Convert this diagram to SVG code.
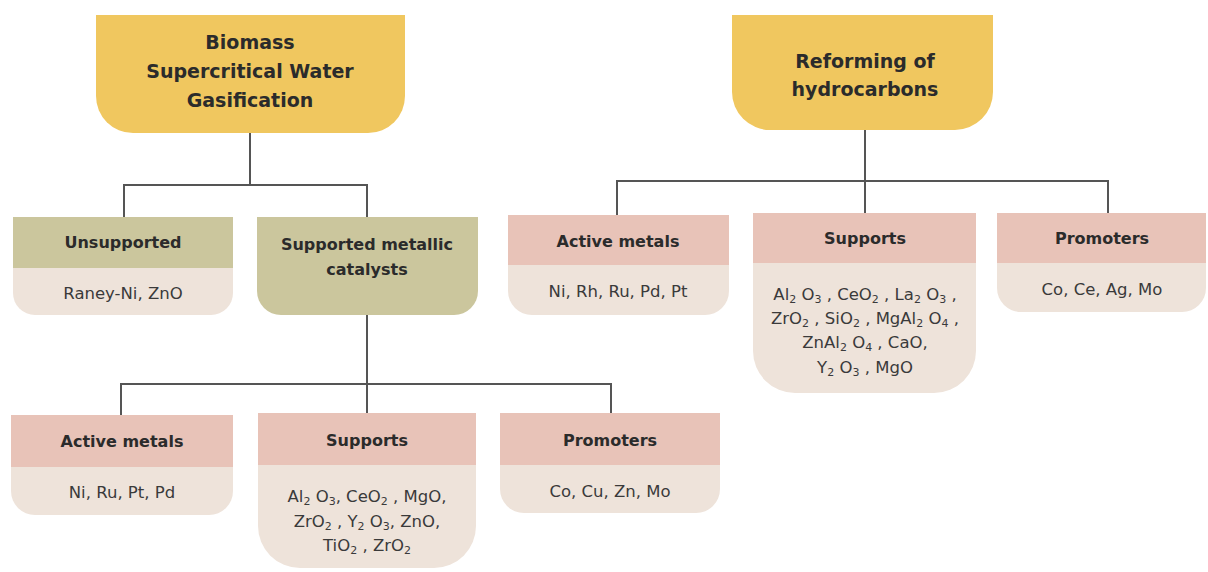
<svg xmlns="http://www.w3.org/2000/svg" width="1208" height="572" viewBox="0 0 1208 572">
<style>
.top{fill:#F0C75F}
.olive{fill:#CBC69D}
.pink{fill:#E8C3B8}
.body{fill:#EEE3DA}
.h1{font-family:"DejaVu Sans",sans-serif;font-weight:bold;font-size:19px;fill:#2b2b2b;text-anchor:middle}
.h2{font-family:"DejaVu Sans",sans-serif;font-weight:bold;font-size:16px;fill:#2b2b2b;text-anchor:middle}
.tx{font-family:"DejaVu Sans",sans-serif;font-size:16.5px;fill:#3a3a3a;text-anchor:middle}
.sb{font-size:11px;baseline-shift:-3px}
.conn{fill:none;stroke:#555;stroke-width:2}
</style>
<rect width="1208" height="572" fill="#fff"/>
<g id="connectors" class="conn">
<path d="M250 133V185M124 217V185H367V217"/>
<path d="M367 315V384M121 415V384H611V413M367 384V413"/>
<path d="M865 130V181M617 215V181H1108V213M865 181V213"/>
</g>
<g id="biomass">
<path class="top" d="M96 15H405V96A37 37 0 0 1 368 133H133A37 37 0 0 1 96 96Z"/>
<text class="h1" x="250" y="49">Biomass</text>
<text class="h1" x="250" y="78">Supercritical Water</text>
<text class="h1" x="250" y="107">Gasification</text>
</g>
<g id="reforming">
<path class="top" d="M732 15H993V92A38 38 0 0 1 955 130H770A38 38 0 0 1 732 92Z"/>
<text class="h1" x="865" y="68">Reforming of</text>
<text class="h1" x="865" y="96">hydrocarbons</text>
</g>
<g id="unsupported">
<path class="body" d="M13 217H233V293A22 22 0 0 1 211 315H35A22 22 0 0 1 13 293Z"/>
<rect class="olive" x="13" y="217" width="220" height="51"/>
<text class="h2" x="123" y="248">Unsupported</text>
<text class="tx" x="123" y="299">Raney-Ni, ZnO</text>
</g>
<g id="supported">
<path class="olive" d="M257 217H478V291A24 24 0 0 1 454 315H281A24 24 0 0 1 257 291Z"/>
<text class="h2" x="367" y="250">Supported metallic</text>
<text class="h2" x="367" y="275">catalysts</text>
</g>
<g id="active1">
<path class="body" d="M11 415H233V491A24 24 0 0 1 209 515H35A24 24 0 0 1 11 491Z"/>
<rect class="pink" x="11" y="415" width="222" height="52"/>
<text class="h2" x="122" y="447">Active metals</text>
<text class="tx" x="122" y="498">Ni, Ru, Pt, Pd</text>
</g>
<g id="supports1">
<path class="body" d="M258 413H476V526A42 42 0 0 1 434 568H300A42 42 0 0 1 258 526Z"/>
<rect class="pink" x="258" y="413" width="218" height="52"/>
<text class="h2" x="367" y="446">Supports</text>
<text class="tx" x="367" y="502">Al<tspan class="sb">2</tspan> O<tspan class="sb">3</tspan>, CeO<tspan class="sb">2</tspan> , MgO,</text>
<text class="tx" x="367" y="527">ZrO<tspan class="sb">2</tspan> , Y<tspan class="sb">2</tspan> O<tspan class="sb">3</tspan>, ZnO,</text>
<text class="tx" x="367" y="551">TiO<tspan class="sb">2</tspan> , ZrO<tspan class="sb">2</tspan></text>
</g>
<g id="promoters1">
<path class="body" d="M500 413H720V489A24 24 0 0 1 696 513H524A24 24 0 0 1 500 489Z"/>
<rect class="pink" x="500" y="413" width="220" height="52"/>
<text class="h2" x="610" y="446">Promoters</text>
<text class="tx" x="610" y="497">Co, Cu, Zn, Mo</text>
</g>
<g id="active2">
<path class="body" d="M508 215H729V291A24 24 0 0 1 705 315H532A24 24 0 0 1 508 291Z"/>
<rect class="pink" x="508" y="215" width="221" height="50"/>
<text class="h2" x="618" y="247">Active metals</text>
<text class="tx" x="618" y="297">Ni, Rh, Ru, Pd, Pt</text>
</g>
<g id="supports2">
<path class="body" d="M753 213H976V351A42 42 0 0 1 934 393H795A42 42 0 0 1 753 351Z"/>
<rect class="pink" x="753" y="213" width="223" height="50"/>
<text class="h2" x="865" y="244">Supports</text>
<text class="tx" x="865" y="300">Al<tspan class="sb">2</tspan> O<tspan class="sb">3</tspan> , CeO<tspan class="sb">2</tspan> , La<tspan class="sb">2</tspan> O<tspan class="sb">3</tspan> ,</text>
<text class="tx" x="865" y="324">ZrO<tspan class="sb">2</tspan> , SiO<tspan class="sb">2</tspan> , MgAl<tspan class="sb">2</tspan> O<tspan class="sb">4</tspan> ,</text>
<text class="tx" x="865" y="348">ZnAl<tspan class="sb">2</tspan> O<tspan class="sb">4</tspan> , CaO,</text>
<text class="tx" x="865" y="373">Y<tspan class="sb">2</tspan> O<tspan class="sb">3</tspan> , MgO</text>
</g>
<g id="promoters2">
<path class="body" d="M997 213H1206V288A24 24 0 0 1 1182 312H1021A24 24 0 0 1 997 288Z"/>
<rect class="pink" x="997" y="213" width="209" height="50"/>
<text class="h2" x="1102" y="244">Promoters</text>
<text class="tx" x="1102" y="295">Co, Ce, Ag, Mo</text>
</g>
</svg>
